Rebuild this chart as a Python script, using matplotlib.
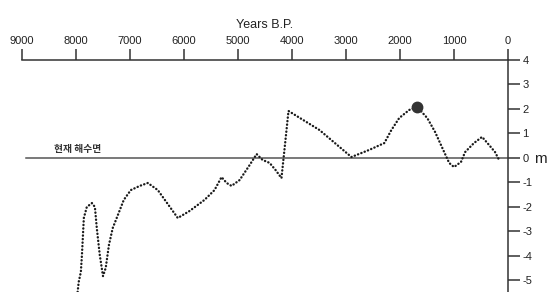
import matplotlib
matplotlib.use("Agg")
import matplotlib.pyplot as plt

plt.rcParams['font.family'] = ['Liberation Sans', 'DejaVu Sans']

# sea level curve, years before present vs metres relative to present
years = [7970, 7950, 7910, 7890, 7855, 7800, 7705, 7650, 7615, 7560, 7500,
         7450, 7390, 7320, 7225, 7115, 6985, 6820, 6670, 6485, 6300, 6115,
         5895, 5620, 5435, 5305, 5210, 5120, 4970, 4785, 4655, 4545, 4415,
         4305, 4195, 4140, 4065, 3490, 2900, 2570, 2290, 2160, 2015, 1830,
         1680, 1495, 1350, 1200, 1090, 1000, 870, 795, 630, 480, 350, 240, 165]
level = [-5.47, -5.06, -4.65, -3.96, -2.45, -2.0, -1.84, -2.0, -2.86, -3.96, -4.82,
         -4.49, -3.55, -2.86, -2.33, -1.71, -1.31, -1.14, -1.02, -1.31, -1.88, -2.45,
         -2.16, -1.71, -1.31, -0.78, -1.02, -1.14, -0.9, -0.29, 0.16, -0.08, -0.2,
         -0.49, -0.82, 0.33, 1.92, 1.14, 0.04, 0.33, 0.61, 1.14, 1.63, 1.96,
         2.08, 1.63, 1.06, 0.33, -0.2, -0.37, -0.16, 0.24, 0.61, 0.86, 0.53, 0.24, -0.08]

peak_year = 1680
peak_level = 2.08

x_ticks = [9000, 8000, 7000, 6000, 5000, 4000, 3000, 2000, 1000, 0]
y_ticks = [4, 3, 2, 1, 0, -1, -2, -3, -4, -5]
y_labels = ['4', '3', '2', '1', '0', '-1', '-2', '-3', '-4', '-5']

W, H = 549, 292
fig = plt.figure(figsize=(W / 100, H / 100), dpi=100)
ax = fig.add_axes([22 / W, 0.0, 486 / W, 232 / H])
ax.set_xlim(9000, 0)
ax.set_ylim(-5.47, 4)

axis_col = '#333333'
for side in ['left', 'bottom']:
    ax.spines[side].set_visible(False)
for side in ['top', 'right']:
    ax.spines[side].set_color(axis_col)
    ax.spines[side].set_linewidth(1.1)

ax.xaxis.tick_top()
ax.xaxis.set_label_position('top')
ax.set_xticks(x_ticks)
ax.set_xticklabels([str(t) for t in x_ticks])
ax.tick_params(axis='x', direction='out', length=8, width=1.1, color=axis_col,
               labelsize=8, pad=2, labelcolor='#222222')
ax.set_xlabel('Years B.P.', fontsize=9, labelpad=6, color='#222222')

ax.yaxis.tick_right()
ax.set_yticks(y_ticks)
ax.set_yticklabels(y_labels)
ax.tick_params(axis='y', direction='out', length=8.5, width=1.1, color=axis_col,
               labelsize=8, pad=2, labelcolor='#222222')
ax.text(1.053, -0.05, 'm', transform=ax.get_yaxis_transform(), fontsize=11,
        va='center', ha='left', color='#222222', clip_on=False)

# present sea level
ax.plot([8920, 0], [0, 0], color='#555555', lw=1.1)
ax.text(8400, 0.25, '현재 해수면', fontsize=7, fontweight='bold',
        family=['Noto Sans CJK KR', 'DejaVu Sans'], color='#333333')

ax.plot(years, level, color='#1a1a1a', lw=1.7, linestyle=(0, (0.1, 1.4)),
        dash_capstyle='round')
ax.plot([peak_year], [peak_level], 'o', color='#333333', markersize=7.5)

fig.savefig('out.png', dpi=100, facecolor='white')
